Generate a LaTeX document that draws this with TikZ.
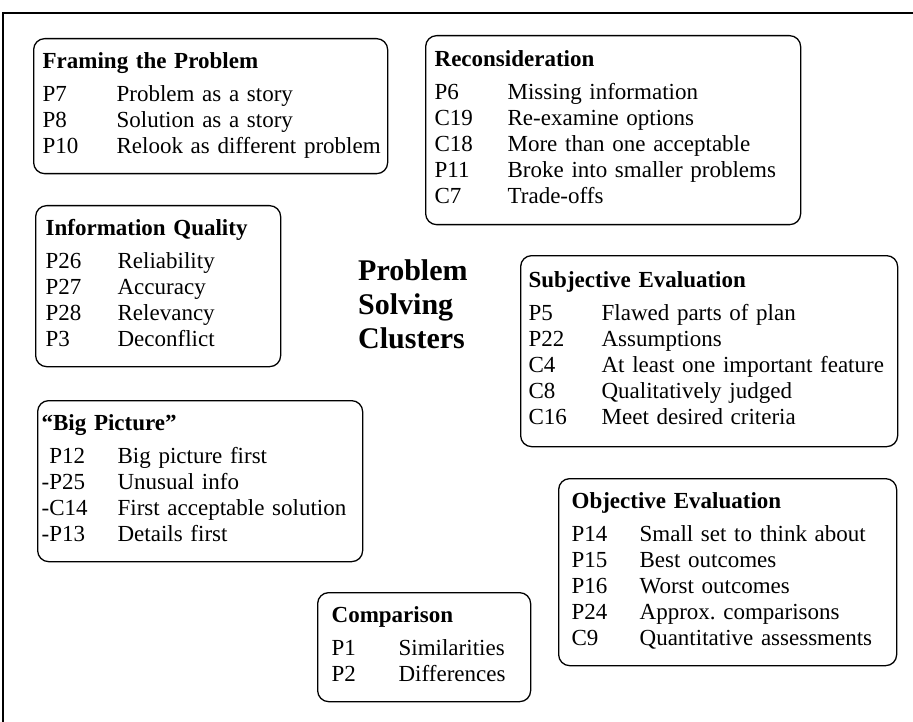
\documentclass[tikz,border=0pt]{standalone}
\usepackage{fontspec}
\setmainfont{Liberation Serif}
\usetikzlibrary{positioning}

% one cluster box: code column width, title, rows
\newcommand{\cltab}[3]{%
  \begin{tabular}{@{}p{#1}@{}l@{}}
    \multicolumn{2}{@{}l@{}}{\textbf{#2}}\\[7pt]
    #3
  \end{tabular}}

\tikzset{
  cluster/.style={draw, line width=1.3pt, rounded corners=11pt,
    anchor=north west, inner xsep=9pt, inner ysep=12pt, align=left,
    font=\fontsize{23}{26}\selectfont},
  heading/.style={anchor=west, inner sep=0pt, align=left,
    font=\bfseries\fontsize{30}{34}\selectfont},
}

\begin{document}
\begin{tikzpicture}[x=1pt,y=-1pt]
  \useasboundingbox (0,0) rectangle (913,722);
  % ---- frame ----
  \draw[line width=1.4pt] (913,13) -- (3,13) -- (3,722);
  % ---- heading ----
  \node[heading] (title) at (358,304) {Problem\\Solving\\Clusters};
  % ---- clusters ----
  \node[cluster, text width=336pt] (framing) at (33,38)
    {\cltab{74pt}{Framing the Problem}{%
      P7 & Problem as a story\\
      P8 & Solution as a story\\
      P10 & Relook as different problem}};
  \node[cluster, text width=357pt, inner ysep=13pt] (recon) at (425,35)
    {\cltab{73pt}{Reconsideration}{%
      P6 & Missing information\\
      C19 & Re-examine options\\
      C18 & More than one acceptable\\
      P11 & Broke into smaller problems\\
      C7 & Trade-offs}};
  \node[cluster, text width=225pt, inner xsep=10pt] (infoq) at (35,205)
    {\cltab{72pt}{Information Quality}{%
      P26 & Reliability\\
      P27 & Accuracy\\
      P28 & Relevancy\\
      P3 & Deconflict}};
  \node[cluster, text width=361pt, inner xsep=8pt, inner ysep=14pt] (subj) at (520,255)
    {\cltab{73pt}{Subjective Evaluation}{%
      P5 & Flawed parts of plan\\
      P22 & Assumptions\\
      C4 & At least one important feature\\
      C8 & Qualitatively judged\\
      C16 & Meet desired criteria}};
  \node[cluster, text width=317pt, inner xsep=4pt] (bigpic) at (37,400)
    {\cltab{76pt}{``Big Picture''}{%
      \phantom{-}P12 & Big picture first\\
      -P25 & Unusual info\\
      -C14 & First acceptable solution\\
      -P13 & Details first}};
  \node[cluster, text width=312pt, inner xsep=13pt] (objeval) at (558,478)
    {\cltab{68pt}{Objective Evaluation}{%
      P14 & Small set to think about\\
      P15 & Best outcomes\\
      P16 & Worst outcomes\\
      P24 & Approx.\ comparisons\\
      C9 & Quantitative assessments}};
  \node[cluster, text width=185pt, inner xsep=14pt] (compar) at (317,592)
    {\cltab{67pt}{Comparison}{%
      P1 & Similarities\\
      P2 & Differences}};
\end{tikzpicture}
\end{document}
